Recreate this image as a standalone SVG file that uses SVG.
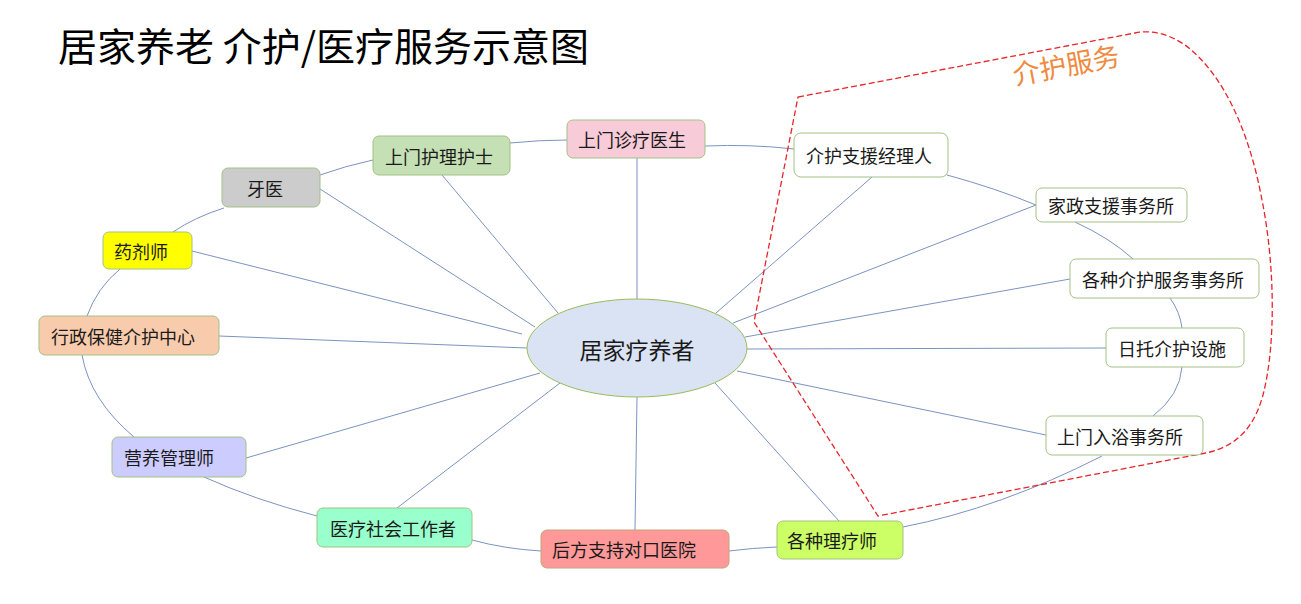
<svg xmlns="http://www.w3.org/2000/svg" width="1301" height="604" viewBox="0 0 1301 604">
<style>
text{font-family:"Noto Sans CJK SC","Noto Sans",sans-serif;fill:#1a1a1a}
.t{font-size:18px;dominant-baseline:central}
.box{stroke:#a3c184;stroke-width:1}
.w{fill:#ffffff}
.c line,.c path{stroke:#7b93c1;stroke-width:1;fill:none}
</style>
<rect width="1301" height="604" fill="#ffffff"/>
<text x="58" y="61" style="font-size:39px;fill:#000">居家养老 介护/医疗服务示意图</text>

<g id="connectors" class="c">
<line x1="637" y1="158" x2="637" y2="299"/>
<line x1="442" y1="175" x2="558" y2="313"/>
<line x1="320" y1="189" x2="535" y2="327"/>
<line x1="192" y1="251" x2="522" y2="334"/>
<line x1="219" y1="336" x2="527" y2="348"/>
<line x1="246" y1="458" x2="540" y2="373"/>
<line x1="397" y1="508" x2="560" y2="383"/>
<line x1="635" y1="530" x2="637" y2="397"/>
<line x1="839" y1="521" x2="715" y2="383"/>
<line x1="1046" y1="435" x2="737" y2="371"/>
<line x1="1106" y1="348" x2="747" y2="349"/>
<line x1="1070" y1="279" x2="745" y2="337"/>
<line x1="1036" y1="205" x2="733" y2="323"/>
<line x1="872" y1="177" x2="716" y2="313"/>
<path d="M705,146 Q750,144 794,149"/>
<path d="M947,175 Q995,188 1036,205"/>
<path d="M1075,222 Q1110,238 1133,259"/>
<path d="M1170,298 Q1180,312 1182,328"/>
<path d="M1182,367 Q1180,395 1153,416"/>
<path d="M1102,456 Q1000,508 903,527"/>
<path d="M777,547 Q752,548 729,551"/>
<path d="M541,551 Q505,549 472,540"/>
<path d="M317,516 Q255,500 204,477"/>
<path d="M134,437 Q90,400 82,355"/>
<path d="M87,316 Q97,288 120,269"/>
<path d="M173,232 Q195,217 224,208"/>
<path d="M320,175 Q345,166 373,160"/>
<path d="M510,143 Q540,140 567,140"/>
</g>

<g id="care-region">
<path d="M798,97 L1135,33 Q1160,28 1185,45 C1225,75 1250,135 1262,200 C1275,265 1276,345 1263,395 C1252,435 1230,450 1195,455 L878,516 L754,322 Z" fill="none" stroke="#e8242b" stroke-width="1.3" stroke-dasharray="6 3"/>
<text x="1015" y="85" transform="rotate(-10.7 1015 85)" style="font-size:27px;fill:#ef8a3e">介护服务</text>
</g>

<g id="center">
<ellipse cx="637" cy="348" rx="110" ry="49" fill="#dae3f3" stroke="#9bbb59" stroke-width="1"/>
<text x="637" y="349" text-anchor="middle" style="font-size:23px;dominant-baseline:central">居家疗养者</text>
</g>

<g id="n-doctor"><rect class="box" x="567" y="120" width="138" height="38" rx="6" fill="#f8cbd8"/><text class="t" x="578" y="139">上门诊疗医生</text></g>
<g id="n-nurse"><rect class="box" x="373" y="136" width="137" height="39" rx="6" fill="#c5e0b4"/><text class="t" x="385" y="155.5">上门护理护士</text></g>
<g id="n-dentist"><rect class="box" x="222" y="168" width="98" height="39" rx="6" fill="#cccccc"/><text class="t" x="247" y="187.5">牙医</text></g>
<g id="n-pharm"><rect class="box" x="103" y="232" width="89" height="37" rx="6" fill="#ffff00" stroke="#c2c468"/><text class="t" x="114" y="250.5">药剂师</text></g>
<g id="n-admin"><rect class="box" x="39" y="316" width="180" height="39" rx="6" fill="#f8cbad"/><text class="t" x="51" y="335.5">行政保健介护中心</text></g>
<g id="n-nutri"><rect class="box" x="112" y="437" width="134" height="40" rx="6" fill="#ccccff"/><text class="t" x="124" y="457">营养管理师</text></g>
<g id="n-social"><rect class="box" x="317" y="508" width="155" height="39" rx="6" fill="#99ffcc"/><text class="t" x="330" y="527.5">医疗社会工作者</text></g>
<g id="n-hospital"><rect class="box" x="541" y="530" width="188" height="38" rx="6" fill="#ff9999" style="stroke:#c0a47a"/><text class="t" x="552" y="549">后方支持对口医院</text></g>
<g id="n-therapist"><rect class="box" x="777" y="521" width="126" height="38" rx="6" fill="#ccff66"/><text class="t" x="787" y="540">各种理疗师</text></g>
<g id="n-caremgr"><rect class="box w" x="794" y="133" width="154" height="44" rx="7"/><text class="t" x="806" y="155">介护支援经理人</text></g>
<g id="n-home"><rect class="box w" x="1036" y="188" width="151" height="34" rx="6"/><text class="t" x="1048" y="205">家政支援事务所</text></g>
<g id="n-services"><rect class="box w" x="1070" y="259" width="189" height="39" rx="6"/><text class="t" x="1082" y="278.5">各种介护服务事务所</text></g>
<g id="n-daycare"><rect class="box w" x="1106" y="328" width="138" height="39" rx="6"/><text class="t" x="1118" y="347.5">日托介护设施</text></g>
<g id="n-bath"><rect class="box w" x="1046" y="416" width="157" height="39" rx="6"/><text class="t" x="1057" y="435.5">上门入浴事务所</text></g>
</svg>
